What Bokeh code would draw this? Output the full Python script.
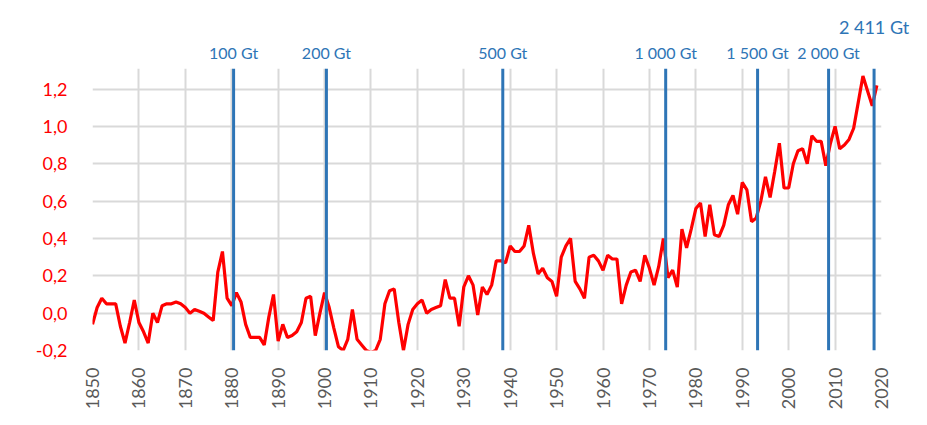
import math
from bokeh.plotting import figure
from bokeh.models import Span, FixedTicker, CustomJSTickFormatter, Range1d, LinearAxis
from bokeh.embed import file_html
from bokeh.resources import INLINE

years = list(range(1850, 2020))
anomaly = [
    -0.06, 0.03, 0.08, 0.05, 0.05, 0.05, -0.07, -0.16, -0.05, 0.07,
    -0.05, -0.10, -0.16, 0.00, -0.05, 0.04, 0.05, 0.05, 0.06, 0.05,
    0.03, 0.00, 0.02, 0.01, 0.00, -0.02, -0.04, 0.22, 0.33, 0.08,
    0.04, 0.11, 0.06, -0.06, -0.13, -0.13, -0.13, -0.17, -0.02, 0.10,
    -0.15, -0.06, -0.13, -0.12, -0.10, -0.05, 0.08, 0.09, -0.12, 0.00,
    0.11, 0.03, -0.08, -0.18, -0.20, -0.14, 0.02, -0.14, -0.17, -0.20,
    -0.21, -0.20, -0.14, 0.05, 0.12, 0.13, -0.05, -0.20, -0.06, 0.02,
    0.05, 0.07, 0.00, 0.02, 0.03, 0.04, 0.18, 0.08, 0.08, -0.07,
    0.14, 0.20, 0.15, -0.01, 0.14, 0.10, 0.15, 0.28, 0.28, 0.27,
    0.36, 0.33, 0.33, 0.36, 0.47, 0.32, 0.21, 0.24, 0.19, 0.17,
    0.09, 0.30, 0.36, 0.40, 0.17, 0.13, 0.08, 0.30, 0.31, 0.28,
    0.23, 0.31, 0.29, 0.29, 0.05, 0.15, 0.22, 0.23, 0.17, 0.31,
    0.24, 0.15, 0.25, 0.40, 0.19, 0.23, 0.14, 0.45, 0.35, 0.45,
    0.56, 0.59, 0.41, 0.58, 0.42, 0.41, 0.47, 0.58, 0.63, 0.53,
    0.70, 0.66, 0.49, 0.51, 0.60, 0.73, 0.62, 0.76, 0.91, 0.67,
    0.67, 0.80, 0.87, 0.88, 0.80, 0.95, 0.92, 0.92, 0.79, 0.91,
    1.00, 0.88, 0.90, 0.93, 0.99, 1.13, 1.27, 1.19, 1.11, 1.22,
]
co2_years = [1880.4, 1900.4, 1938.4, 1973.5, 1993.3, 2008.6, 2018.4]
co2_labels = ["100 Gt", "200 Gt", "500 Gt", "1 000 Gt", "1 500 Gt", "2 000 Gt", "2 411 Gt"]
x_ticks = list(range(1850, 2021, 10))
y_ticks = [-0.2, 0.0, 0.2, 0.4, 0.6, 0.8, 1.0, 1.2]

BLUE = "#2E75B6"
RED = "#FF0000"
GRID = "#D9D9D9"

p = figure(width=919, height=417, output_backend="svg", toolbar_location=None,
           x_range=Range1d(1850, 2020), y_range=Range1d(-0.2, 1.31),
           min_border_left=92, min_border_right=38, min_border_top=68, min_border_bottom=67)
p.outline_line_color = None
p.background_fill_color = "white"
p.border_fill_color = "white"

p.xaxis.ticker = FixedTicker(ticks=x_ticks)
p.yaxis.ticker = FixedTicker(ticks=y_ticks)
p.yaxis.formatter = CustomJSTickFormatter(code="return tick.toFixed(1).replace('.', ',');")
p.xaxis.major_label_orientation = math.pi / 2

for ax in (p.xaxis, p.yaxis):
    ax.axis_line_color = None
    ax.major_tick_line_color = None
    ax.minor_tick_line_color = None
    ax.major_label_text_font = "Lato"
p.yaxis.major_label_text_color = RED
p.yaxis.major_label_text_font_size = "18px"
p.yaxis.major_label_standoff = 19
p.xaxis.major_label_text_color = "#595959"
p.xaxis.major_label_text_font_size = "18px"
p.xaxis.major_label_standoff = 11

p.xgrid.grid_line_color = GRID
p.ygrid.grid_line_color = GRID
p.xgrid.grid_line_width = 2
p.ygrid.grid_line_width = 2

for yr in co2_years:
    p.add_layout(Span(location=yr, dimension="height", line_color=BLUE, line_width=3))

p.line(years, anomaly, line_color=RED, line_width=3.2)

label_code = """
for (let i = 0; i < ys.length; i++) {
    if (Math.abs(ys[i] - tick) < 1e-6) return labs[i];
}
return '';
"""


def co2_axis(ys, labs, size, standoff):
    ax = LinearAxis(ticker=FixedTicker(ticks=ys),
                    formatter=CustomJSTickFormatter(args=dict(ys=ys, labs=labs), code=label_code))
    ax.axis_line_color = None
    ax.major_tick_line_color = None
    ax.minor_tick_line_color = None
    ax.major_label_text_color = BLUE
    ax.major_label_text_font = "Lato"
    ax.major_label_text_font_size = size
    ax.major_label_standoff = standoff
    return ax


p.add_layout(co2_axis(co2_years[:-1], co2_labels[:-1], "16px", 1), "above")
p.add_layout(co2_axis(co2_years[-1:], co2_labels[-1:], "18px", -4), "above")

open("out.html", "w").write(file_html(p, INLINE))
